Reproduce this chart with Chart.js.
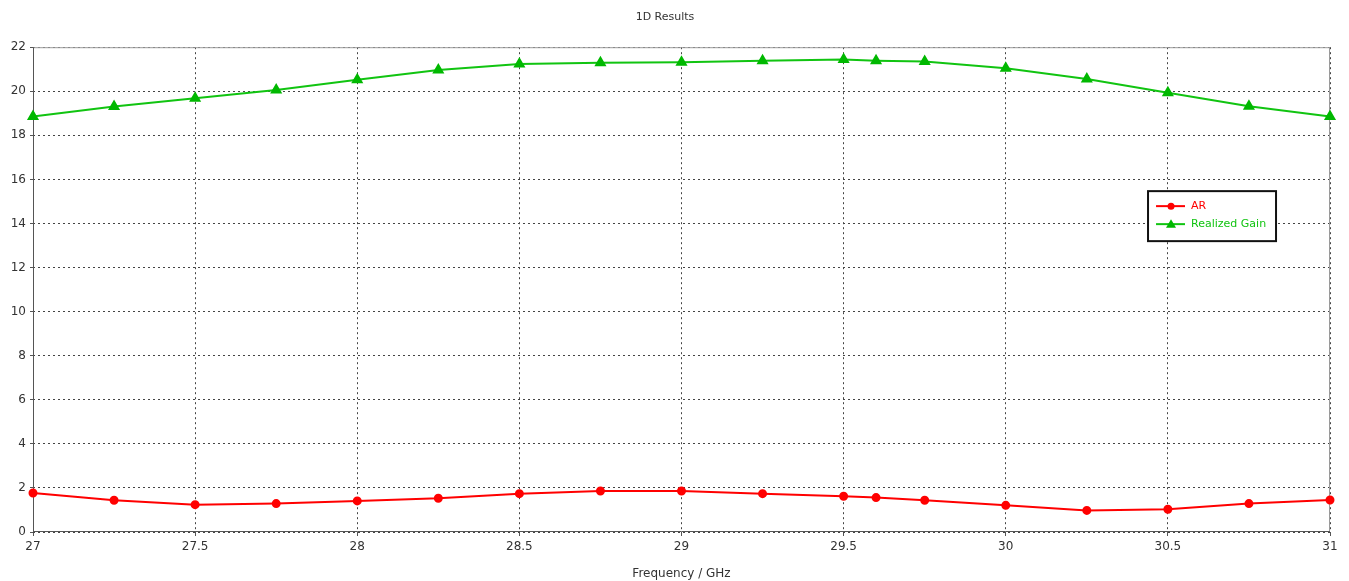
<!DOCTYPE html>
<html>
<head>
<meta charset="utf-8">
<script src="https://cdn.jsdelivr.net/npm/chart.js@4/dist/chart.umd.min.js"></script>
<style>
html,body{margin:0;padding:0;background:#fff;}
#wrap{position:relative;width:1349px;height:581px;}
</style>
</head>
<body>
<div id="wrap"><canvas id="c" width="1349" height="581"></canvas></div>
<script>
const frequencies = [27, 27.25, 27.5, 27.75, 28, 28.25, 28.5, 28.75, 29, 29.25, 29.5, 29.6, 29.75, 30, 30.25, 30.5, 30.75, 31];
const arValues = [1.77, 1.44, 1.24, 1.29, 1.41, 1.53, 1.74, 1.86, 1.86, 1.74, 1.62, 1.56, 1.44, 1.21, 0.98, 1.03, 1.29, 1.45];
const gainValues = [18.85, 19.31, 19.68, 20.06, 20.52, 20.97, 21.24, 21.29, 21.32, 21.39, 21.44, 21.39, 21.35, 21.04, 20.56, 19.93, 19.32, 18.85];
const xTicks = [27, 27.5, 28, 28.5, 29, 29.5, 30, 30.5, 31];
const yTicks = [0, 2, 4, 6, 8, 10, 12, 14, 16, 18, 20, 22];
const seriesNames = ['AR', 'Realized Gain'];
const titleText = '1D Results';
const xAxisTitle = 'Frequency / GHz';

const FONT = 'Tahoma, "DejaVu Sans", sans-serif';
const RED = '#ff0000';
const GREEN = '#00b800';

function toXY(xs, ys){ return xs.map((x,i)=>({x:x, y:ys[i]})); }

const frame = {
  id: 'frame',
  beforeDatasetsDraw(chart){
    const a = chart.chartArea, ctx = chart.ctx;
    ctx.save();
    ctx.strokeStyle = '#9a9a9a';
    ctx.lineWidth = 1;
    ctx.setLineDash([]);
    ctx.beginPath();
    ctx.moveTo(a.left, a.top + 0.5); ctx.lineTo(a.right, a.top + 0.5);
    ctx.moveTo(a.right - 0.5, a.top); ctx.lineTo(a.right - 0.5, a.bottom);
    ctx.stroke();
    ctx.strokeStyle = '#555';
    ctx.beginPath();
    ctx.moveTo(a.left + 0.5, a.top); ctx.lineTo(a.left + 0.5, a.bottom);
    ctx.moveTo(a.left, a.bottom - 0.5); ctx.lineTo(a.right, a.bottom - 0.5);
    ctx.stroke();
    ctx.restore();
  }
};

const legendBox = {
  id: 'legendBox',
  afterDraw(chart){
    const a = chart.chartArea, ctx = chart.ctx;
    const w = a.right - a.left, h = a.bottom - a.top;
    const left = a.left + w * 0.8597, top = a.top + h * 0.2969;
    const bw = 128, bh = 50;
    ctx.save();
    ctx.fillStyle = '#fff';
    ctx.fillRect(left, top, bw, bh);
    ctx.strokeStyle = '#111';
    ctx.lineWidth = 2;
    ctx.strokeRect(left, top, bw, bh);
    const ds = chart.data.datasets;
    const rows = [top + 15, top + 33];
    ds.forEach((d, i) => {
      const y = rows[i];
      ctx.strokeStyle = d.borderColor;
      ctx.lineWidth = 2;
      ctx.beginPath();
      ctx.moveTo(left + 8, y); ctx.lineTo(left + 37, y);
      ctx.stroke();
      ctx.fillStyle = d.pointBackgroundColor;
      const cx = left + 23;
      ctx.beginPath();
      if (d.pointStyle === 'triangle') {
        ctx.moveTo(cx, y - 5); ctx.lineTo(cx + 5, y + 3.5); ctx.lineTo(cx - 5, y + 3.5); ctx.closePath();
      } else {
        ctx.arc(cx, y, 3.5, 0, Math.PI * 2);
      }
      ctx.fill();
      ctx.fillStyle = d.borderColor;
      ctx.font = '11px ' + FONT;
      ctx.textBaseline = 'middle';
      ctx.textAlign = 'left';
      ctx.fillText(d.label, left + 43, y);
    });
    ctx.restore();
  }
};

new Chart(document.getElementById('c'), {
  type: 'line',
  data: {
    datasets: [
      {
        label: seriesNames[0],
        data: toXY(frequencies, arValues),
        borderColor: RED,
        backgroundColor: RED,
        pointBackgroundColor: RED,
        pointBorderColor: RED,
        pointStyle: 'circle',
        pointRadius: 3.5,
        borderWidth: 2,
        tension: 0,
        clip: false
      },
      {
        label: seriesNames[1],
        data: toXY(frequencies, gainValues),
        borderColor: '#11c411',
        backgroundColor: GREEN,
        pointBackgroundColor: GREEN,
        pointBorderColor: GREEN,
        pointStyle: 'triangle',
        pointRadius: 5,
        borderWidth: 2,
        tension: 0,
        clip: false
      }
    ]
  },
  options: {
    responsive: false,
    animation: false,
    events: [],
    layout: { padding: { left: 0, right: 19, top: 0, bottom: 0 } },
    plugins: {
      legend: { display: false },
      tooltip: { enabled: false },
      title: {
        display: true,
        text: titleText,
        color: '#333',
        font: { family: FONT, size: 11, weight: 'normal' },
        padding: { top: 11, bottom: 23 }
      }
    },
    scales: {
      x: {
        type: 'linear',
        min: 27, max: 31,
        afterBuildTicks(scale){ scale.ticks = xTicks.map(v => ({value: v})); },
        afterFit(scale){ scale.height = 49; },
        border: { display: false, dash: [2, 3] },
        grid: {
          color: '#444',
          lineWidth: 1,
          drawTicks: true,
          tickLength: 4,
          tickColor: '#555',
          tickBorderDash: [],
        },
        ticks: {
          color: '#333',
          font: { family: FONT, size: 12 },
          padding: 4,
          maxRotation: 0,
          autoSkip: false,
          callback: v => String(v)
        },
        title: {
          display: true,
          text: xAxisTitle,
          color: '#333',
          font: { family: FONT, size: 12 },
          padding: { top: 2, bottom: 0 }
        }
      },
      y: {
        type: 'linear',
        min: 0, max: 22,
        afterBuildTicks(scale){ scale.ticks = yTicks.map(v => ({value: v})); },
        afterFit(scale){ scale.width = 33; },
        border: { display: false, dash: [2, 3] },
        grid: {
          color: '#444',
          lineWidth: 1,
          drawTicks: true,
          tickLength: 3,
          tickColor: '#555',
          tickBorderDash: []
        },
        ticks: {
          color: '#333',
          font: { family: FONT, size: 12 },
          padding: 4,
          autoSkip: false,
          callback: v => String(v)
        }
      }
    }
  },
  plugins: [frame, legendBox]
});
</script>
</body>
</html>
